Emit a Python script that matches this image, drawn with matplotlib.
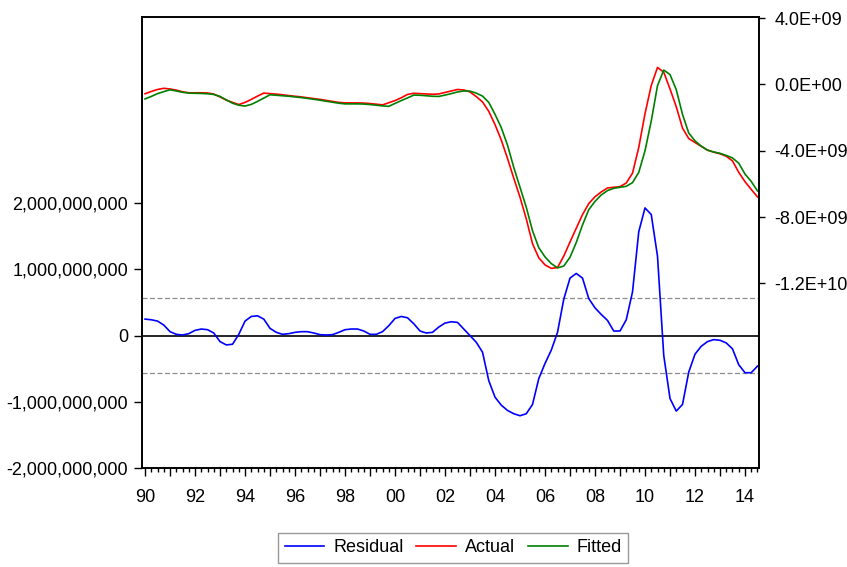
import numpy as np
import matplotlib
matplotlib.use("Agg")
import matplotlib.pyplot as plt
from matplotlib.ticker import FuncFormatter, FixedLocator

plt.rcParams['font.family'] = ['Liberation Sans', 'DejaVu Sans']

# quarterly sample 1990Q1 - 2014Q3, values in billions
start_year = 1990
residual = [0.25, 0.24, 0.22, 0.16, 0.06, 0.02, 0.01, 0.03, 0.08, 0.10,
            0.09, 0.04, -0.09, -0.14, -0.13, 0.02, 0.22, 0.29, 0.30, 0.25,
            0.11, 0.05, 0.02, 0.03, 0.05, 0.06, 0.06, 0.04, 0.015, 0.01,
            0.015, 0.05, 0.09, 0.10, 0.10, 0.07, 0.02, 0.02, 0.06, 0.15,
            0.26, 0.29, 0.27, 0.18, 0.07, 0.04, 0.05, 0.13, 0.19, 0.21,
            0.20, 0.10, 0.0, -0.10, -0.25, -0.68, -0.93, -1.05, -1.13, -1.18,
            -1.21, -1.18, -1.04, -0.65, -0.42, -0.22, 0.05, 0.55, 0.87, 0.94,
            0.87, 0.56, 0.42, 0.32, 0.23, 0.07, 0.07, 0.24, 0.66, 1.57,
            1.93, 1.83, 1.20, -0.30, -0.95, -1.14, -1.04, -0.55, -0.28, -0.16,
            -0.09, -0.06, -0.07, -0.11, -0.20, -0.44, -0.56, -0.56, -0.46]
actual = [-0.56, -0.42, -0.30, -0.23, -0.27, -0.34, -0.44, -0.50, -0.50, -0.50,
          -0.51, -0.58, -0.75, -0.94, -1.08, -1.21, -1.08, -0.90, -0.70, -0.52,
          -0.55, -0.58, -0.62, -0.67, -0.71, -0.75, -0.80, -0.85, -0.90, -0.96,
          -1.02, -1.08, -1.11, -1.11, -1.11, -1.12, -1.15, -1.19, -1.23, -1.10,
          -0.97, -0.80, -0.60, -0.53, -0.55, -0.57, -0.59, -0.57, -0.48, -0.39,
          -0.30, -0.33, -0.45, -0.73, -1.05, -1.62, -2.42, -3.35, -4.46, -5.65,
          -6.80, -8.10, -9.60, -10.45, -10.88, -11.09, -11.04, -10.35, -9.50, -8.67,
          -7.85, -7.18, -6.77, -6.48, -6.24, -6.20, -6.16, -5.94, -5.35, -3.80,
          -1.76, -0.06, 1.03, 0.74, -0.27, -1.34, -2.63, -3.26, -3.50, -3.73,
          -3.96, -4.08, -4.18, -4.33, -4.61, -5.30, -5.86, -6.33, -6.78]
fitted = [-0.87, -0.72, -0.55, -0.43, -0.32, -0.39, -0.47, -0.52, -0.53, -0.54,
          -0.56, -0.60, -0.72, -0.93, -1.13, -1.25, -1.30, -1.20, -1.02, -0.82,
          -0.62, -0.65, -0.68, -0.71, -0.75, -0.79, -0.84, -0.89, -0.95, -1.01,
          -1.07, -1.13, -1.17, -1.17, -1.17, -1.18, -1.21, -1.25, -1.29, -1.32,
          -1.14, -0.97, -0.81, -0.64, -0.65, -0.68, -0.71, -0.72, -0.64, -0.55,
          -0.45, -0.39, -0.40, -0.52, -0.70, -1.08, -1.80, -2.60, -3.66, -5.00,
          -6.20, -7.40, -8.82, -9.84, -10.40, -10.80, -11.06, -10.95, -10.42, -9.53,
          -8.47, -7.55, -7.05, -6.66, -6.40, -6.26, -6.20, -6.14, -5.92, -5.30,
          -4.00, -2.20, -0.07, 0.87, 0.60, -0.31, -1.80, -2.93, -3.40, -3.72,
          -3.96, -4.07, -4.15, -4.28, -4.43, -4.75, -5.40, -5.85, -6.42]
std_err = 0.565

t = start_year + np.arange(len(residual)) / 4.0
res = np.array(residual) * 1e9
act = np.array(actual) * 1e9
fit = np.array(fitted) * 1e9

fig = plt.figure(figsize=(8.47, 5.67), dpi=100)
ax = fig.add_axes([0.1677, 0.1746, 0.7284, 0.7954])
ax2 = ax.twinx()

# residual panel (left scale)
ax.axhline(0, color='black', lw=1.2, zorder=1)
for s in (std_err, -std_err):
    ax.axhline(s * 1e9, color='#8c8c8c', lw=0.9, dashes=(4, 2), zorder=1)
l_res, = ax.plot(t, res, color='#0000ff', lw=1.2, label='Residual', zorder=2)
ax.set_ylim(-2e9, 4.815e9)
ax.yaxis.set_major_locator(FixedLocator([-2e9, -1e9, 0, 1e9, 2e9]))
ax.yaxis.set_major_formatter(FuncFormatter(lambda v, p: f'{v:,.0f}'))

# actual / fitted (right scale)
l_act, = ax2.plot(t, act, color='#ff0000', lw=1.2, label='Actual')
l_fit, = ax2.plot(t, fit, color='#008000', lw=1.2, label='Fitted')
ax2.set_ylim(-2.313e10, 4.07e9)
ax2.yaxis.set_major_locator(FixedLocator([4e9, 0, -4e9, -8e9, -1.2e10]))
ax2.yaxis.set_major_formatter(FuncFormatter(lambda v, p: f'{v:.1E}'))

ax.set_xlim(1989.88, 2014.56)
years = np.arange(1990, 2015)
ax.xaxis.set_major_locator(FixedLocator(years))
ax.xaxis.set_minor_locator(FixedLocator(np.arange(1990, 2014.76, 0.25)))
ax.set_xticklabels([f'{y % 100:02d}' if y % 2 == 0 else '' for y in years])

for a in (ax, ax2):
    for sp in a.spines.values():
        sp.set_color('black')
        sp.set_linewidth(1.2)
ax.tick_params(axis='y', labelsize=13, length=6, width=1, pad=4)
ax2.tick_params(axis='y', labelsize=13, length=4, width=1, pad=7)
ax.tick_params(axis='x', which='major', labelsize=13, length=6, width=1, pad=9)
ax.tick_params(axis='x', which='minor', length=3, width=1)

fig.legend(handles=[l_res, l_act, l_fit], loc='center',
           bbox_to_anchor=(0.535, 0.034), ncol=3, fontsize=13,
           frameon=True, fancybox=False, edgecolor='#808080',
           handlelength=2.2, handletextpad=0.5, columnspacing=0.7,
           borderpad=0.35, borderaxespad=0)

fig.savefig('out.png', dpi=100)
